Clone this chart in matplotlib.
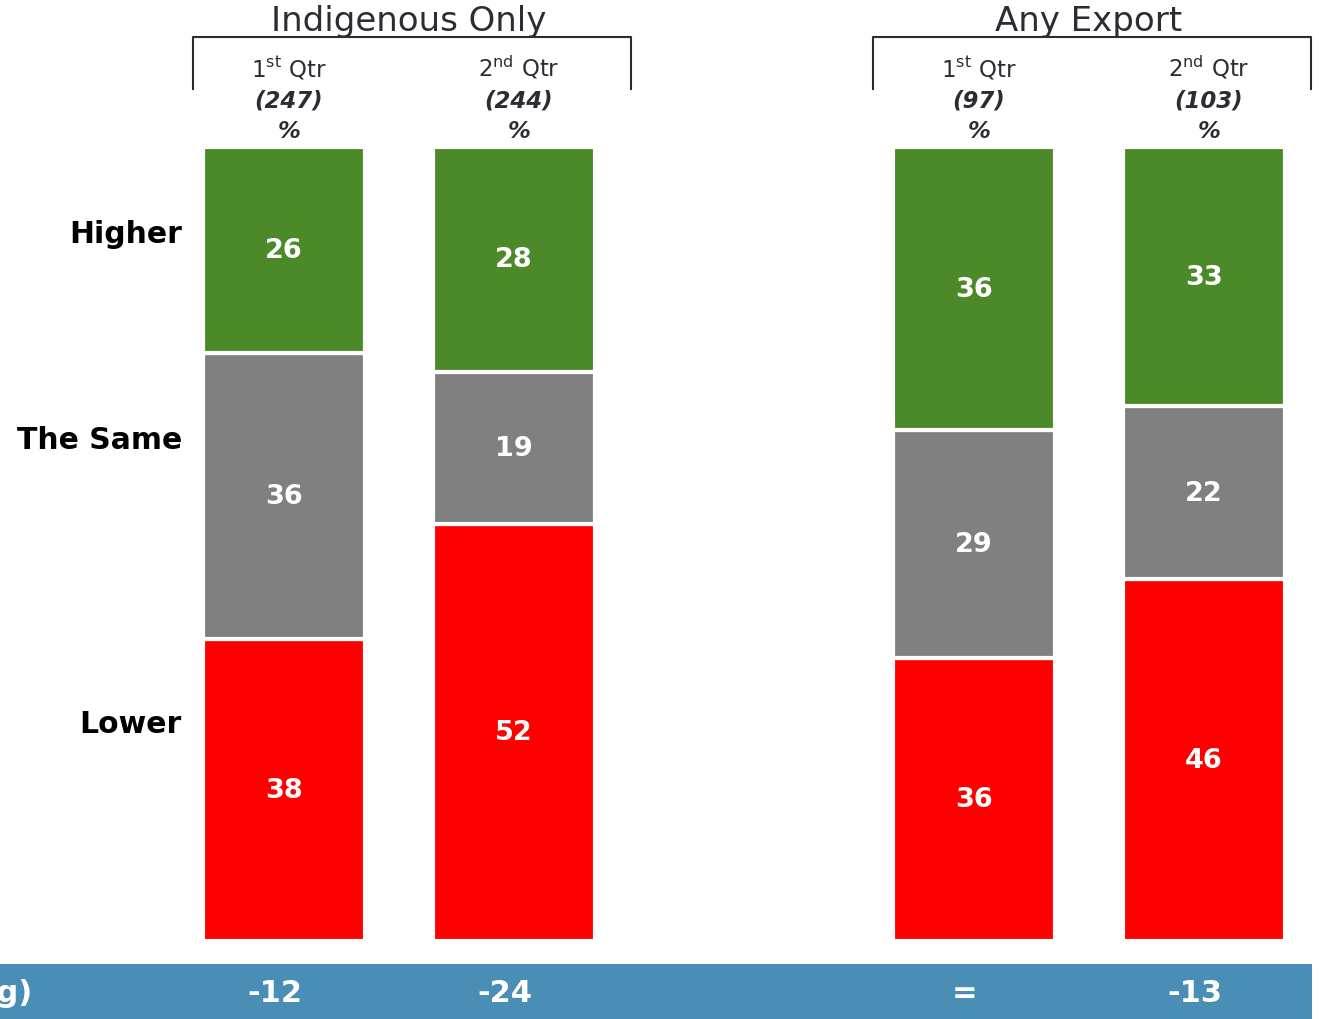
import matplotlib
matplotlib.use("Agg")
import matplotlib.pyplot as plt
from matplotlib.patches import Rectangle
from matplotlib.lines import Line2D
from matplotlib import font_manager
import numpy as np

# Survey results: share of respondents by outcome, per group and quarter
groups = ["Indigenous Only", "Any Export"]
quarters = [r"1$^{\mathregular{st}}$ Qtr", r"2$^{\mathregular{nd}}$ Qtr"]
bases = ["(247)", "(244)", "(97)", "(103)"]
categories = ["Higher", "The Same", "Lower"]
higher = [26, 28, 36, 33]
same = [36, 19, 29, 22]
lower = [38, 52, 36, 46]
net_label = "Net (Pos - Neg)"

colors = {"Higher": "#4C8A29", "The Same": "#808080", "Lower": "#FF0000"}
band_color = "#4A8DB5"
dark = "#2A2E34"

# Pick a condensed face for the net-score band if one is available
installed = {f.name for f in font_manager.fontManager.ttflist}
narrow = [n for n in ["Liberation Sans Narrow", "DejaVu Sans Condensed"] if n in installed]
narrow = narrow + ["DejaVu Sans"]

W, H = 1319, 1020
fig = plt.figure(figsize=(W / 100, H / 100), dpi=100)

# Axes spanning the bar area; positions 0,1 and 3,4 for the two groups
positions = np.array([0, 1, 3, 4])
ax = fig.add_axes([0, 78 / H, 1, 794 / H])
ax.set_xlim(-284 / 230, (W - 284) / 230)
ax.set_ylim(0, 100)
ax.axis("off")

hi = np.array(higher, float)
sm = np.array(same, float)
lo = np.array(lower, float)
tot = hi + sm + lo
hi_s, sm_s, lo_s = hi / tot * 100, sm / tot * 100, lo / tot * 100

width = 162 / 230
stack = [("Lower", lo_s, lo), ("The Same", sm_s, sm), ("Higher", hi_s, hi)]
bottom = np.zeros(4)
for name, share, raw in stack:
    ax.bar(positions, share, width=width, bottom=bottom, color=colors[name],
           edgecolor="white", linewidth=3)
    for x, b, s, v in zip(positions, bottom, share, raw):
        ax.text(x, b + s / 2, f"{int(v)}", ha="center", va="center",
                color="white", fontsize=19.5, fontweight="bold")
    bottom += share

# Row labels aligned with the first bar's segments
lbl_x = -284 / 230 + 182 / 230
row_kw = dict(ha="right", va="center", fontsize=21.5, fontweight="bold", color="black")
ax.text(lbl_x, lo_s[0] + sm_s[0] + hi_s[0] * 0.58, "Higher", **row_kw)
ax.text(lbl_x, lo_s[0] + sm_s[0] * 0.70, "The Same", **row_kw)
ax.text(lbl_x, lo_s[0] * 0.72, "Lower", **row_kw)

# Group headers with brackets
def fy(py):
    return 1 - py / H

for g, name in enumerate(groups):
    x0 = (193 if g == 0 else 873) / W
    x1 = (631 if g == 0 else 1311) / W
    fig.add_artist(Line2D([x0, x0, x1, x1], [fy(90), fy(38), fy(38), fy(90)],
                          color=dark, linewidth=1.5))
    fig.text((x0 + x1) / 2 - 3 / W, fy(22), name, ha="center", va="center",
             fontsize=24.5, color=dark)

for i, x in enumerate(positions):
    xf = (284 + 230 * x + 5) / W
    fig.text(xf, fy(68), quarters[i % 2], ha="center", va="center",
             fontsize=16.5, color=dark)
    fig.text(xf, fy(101), bases[i], ha="center", va="center",
             fontsize=16.5, color=dark, fontweight="bold", style="italic")
    fig.text(xf, fy(132), "%", ha="center", va="center",
             fontsize=16.5, color=dark, fontweight="bold", style="italic")

# Net score band along the bottom
fig.add_artist(Rectangle((0, 0), 1312 / W, 55 / H, transform=fig.transFigure,
                         facecolor=band_color, edgecolor="none"))
fig.text(32 / W, fy(994), net_label, ha="right", va="center", fontsize=22,
         fontweight="bold", color="white", family=narrow)
net = hi - lo
for x, n in zip(positions, net):
    s = "=" if n == 0 else f"{int(n)}"
    xf = (284 + 230 * x - 9) / W
    fig.text(xf, fy(994), s, ha="center", va="center", fontsize=22,
             fontweight="bold", color="white", family=narrow)

fig.savefig("out.png", dpi=100)
